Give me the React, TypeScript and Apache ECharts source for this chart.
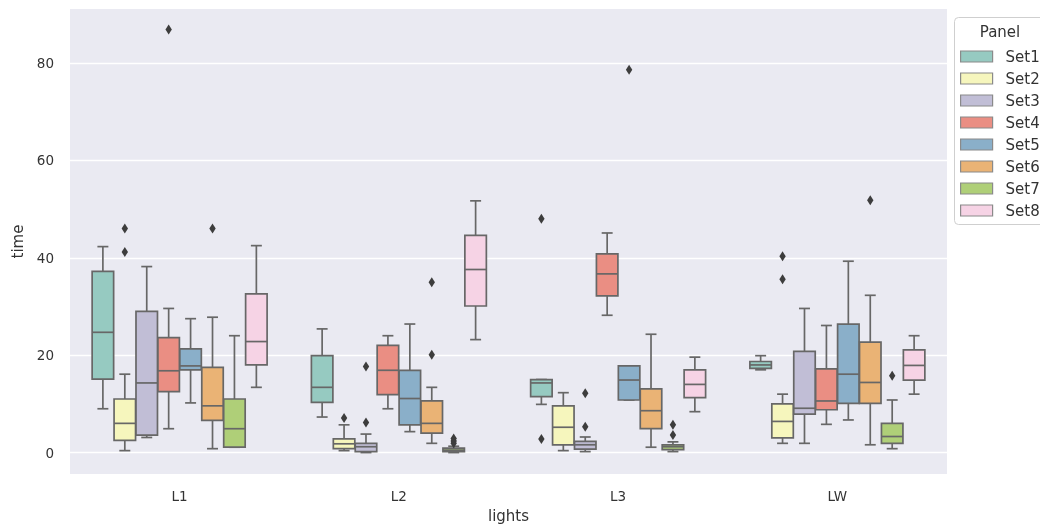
import React, { useEffect, useRef } from "react";
import * as echarts from "echarts";

// ---------- data ----------
const categories = ["L1", "L2", "L3", "LW"];
const setNames = ["Set1", "Set2", "Set3", "Set4", "Set5", "Set6", "Set7", "Set8"];
const yTicks = [0, 20, 40, 60, 80];

// box stats per category: [lowWhisker, q1, median, q3, highWhisker]
const boxSet1 = [
  [9.0, 15.1, 24.7, 37.2, 42.3],
  [7.3, 10.3, 13.4, 19.9, 25.4],
  [9.9, 11.5, 14.3, 15.0, 15.0],
  [17.0, 17.3, 18.0, 18.7, 19.9],
];
const boxSet2 = [
  [0.4, 2.5, 6.0, 11.0, 16.1],
  [0.4, 0.8, 1.8, 2.8, 5.7],
  [0.4, 1.6, 5.2, 9.6, 12.3],
  [1.9, 3.0, 6.4, 10.0, 12.0],
];
const boxSet3 = [
  [3.1, 3.6, 14.3, 29.0, 38.2],
  [0.0, 0.2, 1.2, 1.9, 3.8],
  [0.2, 0.7, 1.6, 2.3, 3.2],
  [1.9, 7.9, 9.1, 20.8, 29.6],
];
const boxSet4 = [
  [4.9, 12.5, 16.8, 23.6, 29.6],
  [9.0, 11.9, 16.9, 22.0, 24.0],
  [28.2, 32.2, 36.7, 40.8, 45.1],
  [5.8, 8.8, 10.6, 17.2, 26.1],
];
const boxSet5 = [
  [10.2, 17.0, 17.8, 21.3, 27.5],
  [4.3, 5.7, 11.1, 16.9, 26.4],
  [10.8, 10.8, 14.9, 17.8, 17.8],
  [6.7, 10.1, 16.1, 26.4, 39.3],
];
const boxSet6 = [
  [0.8, 6.6, 9.6, 17.5, 27.8],
  [1.9, 4.0, 6.0, 10.6, 13.4],
  [1.1, 4.9, 8.6, 13.1, 24.3],
  [1.6, 10.1, 14.4, 22.7, 32.3],
];
const boxSet7 = [
  [1.1, 1.1, 4.9, 11.0, 24.0],
  [0.0, 0.2, 0.5, 0.9, 1.3],
  [0.2, 0.6, 1.2, 1.6, 2.2],
  [0.8, 1.9, 3.3, 6.0, 10.8],
];
const boxSet8 = [
  [13.4, 18.0, 22.8, 32.6, 42.5],
  [23.2, 30.1, 37.6, 44.6, 51.7],
  [8.4, 11.3, 14.0, 17.0, 19.6],
  [12.0, 14.9, 17.9, 21.1, 24.0],
];

// outliers: [categoryIndex, value]
const outSet1 = [[2, 48.0], [2, 2.8]];
const outSet2 = [[0, 46.0], [0, 41.2], [1, 7.1], [3, 40.3], [3, 35.6]];
const outSet3 = [[1, 17.7], [1, 6.2], [2, 12.2], [2, 5.3]];
const outSet4 = [[0, 86.9]];
const outSet5 = [[2, 78.6]];
const outSet6 = [[0, 46.0], [1, 35.0], [1, 20.1], [3, 51.8]];
const outSet7 = [[1, 1.9], [1, 2.4], [1, 2.9], [2, 5.7], [2, 3.6], [3, 15.8]];
const outSet8: number[][] = [];

const boxes = [boxSet1, boxSet2, boxSet3, boxSet4, boxSet5, boxSet6, boxSet7, boxSet8];
const outliers = [outSet1, outSet2, outSet3, outSet4, outSet5, outSet6, outSet7, outSet8];

const colors = ["#96cac1", "#f6f6bd", "#c1bed6", "#ea8e83", "#8aafc9", "#eab375", "#afcf78", "#f6d3e5"];
const LINE = "#676767";

export default function App() {
  const ref = useRef<HTMLDivElement>(null);
  useEffect(() => {
    if (!ref.current) return;
    const chart = echarts.init(ref.current, undefined, { renderer: "svg" });
    const n = setNames.length;

    const offsetX = (api: any, cat: number, s: number) => {
      const band = api.size([1, 0])[0];
      const cx = api.coord([cat, 0])[0];
      const bw = (band * 0.8) / n;
      return { x: cx - band * 0.4 + bw * (s + 0.5), bw };
    };

    const boxRender = (s: number) => (params: any, api: any) => {
      const cat = api.value(0);
      const { x, bw } = offsetX(api, cat, s);
      const y = (v: number) => api.coord([cat, v])[1];
      const lo = y(api.value(1));
      const q1 = y(api.value(2));
      const med = y(api.value(3));
      const q3 = y(api.value(4));
      const hi = y(api.value(5));
      const half = (bw / 2) * 0.98;
      const cap = bw / 4;
      const ls = { stroke: LINE, lineWidth: 1.7 };
      return {
        type: "group",
        children: [
          { type: "line", shape: { x1: x, y1: q3, x2: x, y2: hi }, style: ls },
          { type: "line", shape: { x1: x, y1: q1, x2: x, y2: lo }, style: ls },
          { type: "line", shape: { x1: x - cap, y1: hi, x2: x + cap, y2: hi }, style: ls },
          { type: "line", shape: { x1: x - cap, y1: lo, x2: x + cap, y2: lo }, style: ls },
          {
            type: "rect",
            shape: { x: x - half, y: q3, width: half * 2, height: Math.max(q1 - q3, 0.5) },
            style: { fill: colors[s], stroke: LINE, lineWidth: 1.7 },
          },
          { type: "line", shape: { x1: x - half, y1: med, x2: x + half, y2: med }, style: ls },
        ],
      };
    };

    const outRender = (s: number) => (params: any, api: any) => {
      const cat = api.value(0);
      const { x } = offsetX(api, cat, s);
      const yy = api.coord([cat, api.value(1)])[1];
      return {
        type: "polygon",
        shape: { points: [[x, yy - 5], [x + 3.2, yy], [x, yy + 5], [x - 3.2, yy]] },
        style: { fill: "#3d3d3d" },
      };
    };

    const series: any[] = [];
    setNames.forEach((name, s) => {
      series.push({
        type: "custom",
        name,
        renderItem: boxRender(s),
        itemStyle: { color: colors[s] },
        encode: { x: 0, y: [1, 2, 3, 4, 5] },
        data: boxes[s].map((b, i) => [i, ...b]),
        z: 2,
      });
      series.push({
        type: "custom",
        name,
        renderItem: outRender(s),
        itemStyle: { color: colors[s] },
        encode: { x: 0, y: 1 },
        data: outliers[s],
        z: 3,
      });
    });

    chart.setOption({
      animation: false,
      textStyle: { fontFamily: "DejaVu Sans" },
      grid: {
        left: 70,
        right: 93,
        top: 9,
        bottom: 54,
        show: true,
        backgroundColor: "#eaeaf2",
        borderWidth: 0,
      },
      xAxis: {
        type: "category",
        data: categories,
        name: "lights",
        nameLocation: "middle",
        nameGap: 34,
        nameTextStyle: { fontSize: 15, color: "#333" },
        axisLine: { show: false },
        axisTick: { show: false },
        splitLine: { show: false },
        axisLabel: { fontSize: 13.5, color: "#333", margin: 15 },
      },
      yAxis: {
        type: "value",
        min: -4.4,
        max: 91.1,
        name: "time",
        nameLocation: "middle",
        nameGap: 43,
        nameTextStyle: { fontSize: 15, color: "#333" },
        axisLine: { show: false },
        axisTick: { show: false, customValues: yTicks },
        axisLabel: { fontSize: 13.5, color: "#333", margin: 16, customValues: yTicks },
        splitLine: { show: true, lineStyle: { color: "#ffffff", width: 1.3 } },
      },
      legend: {
        orient: "vertical",
        left: 960,
        top: 49,
        padding: 0,
        itemWidth: 32,
        itemHeight: 11,
        itemGap: 7,
        icon: "rect",
        textStyle: { fontSize: 15, lineHeight: 14, color: "#333", padding: [0, 0, 0, 8] },
        data: setNames.map((name, s) => ({
          name,
          itemStyle: { color: colors[s], borderColor: "#8a8a8a", borderWidth: 1.2 },
        })),
      },
      graphic: [
        {
          type: "rect",
          shape: { x: 954.5, y: 17.5, width: 110, height: 207, r: 4 },
          style: { fill: "#ffffff", stroke: "#cfcfcf", lineWidth: 1 },
          z: -1,
        },
        {
          type: "text",
          x: 1000,
          y: 31.7,
          style: {
            text: "Panel",
            fontSize: 15,
            fontFamily: "DejaVu Sans",
            fill: "#333",
            align: "center",
            verticalAlign: "middle",
          },
        },
      ],
      series,
    });
    return () => chart.dispose();
  }, []);
  return (
    <div
      ref={ref}
      style={{ position: "fixed", left: 0, top: 0, width: 1040, height: 528 }}
    />
  );
}
